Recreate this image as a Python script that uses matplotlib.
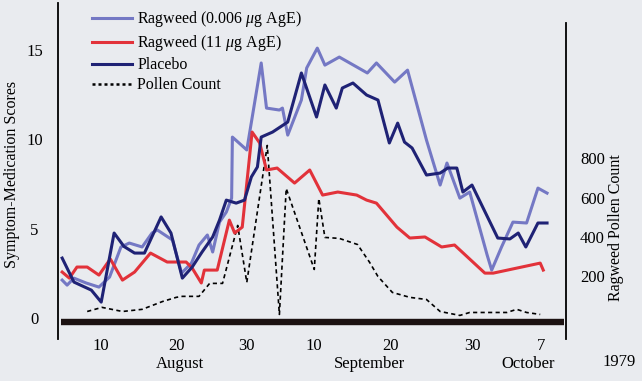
import matplotlib
matplotlib.use('Agg')
import matplotlib.pyplot as plt

# x values: days after 31 July 1979
low_days = [3.85, 4.5, 5.4, 7.0, 8.7, 10.1, 11.6, 12.7, 14.4, 15.7, 16.4, 18.4, 19.6, 20.9,
            21.9, 23.0, 23.7, 24.6, 25.5, 26.2, 26.3, 28.2, 30.1, 30.8, 32.5, 32.9, 33.6,
            35.4, 36.1, 37.5, 38.5, 40.4, 44.1, 45.3, 47.7, 49.4, 51.9, 53.7, 54.6, 56.3,
            57.6, 59.9, 60.5, 61.8, 63.3, 65.1, 66.6, 67.8]
low_scores = [2.12, 1.84, 2.23, 1.96, 1.73, 2.29, 3.97, 4.19, 3.97, 4.75, 4.92, 4.36, 2.51, 3.07,
              4.08, 4.64, 3.69, 5.36, 5.92, 6.70, 10.11, 9.39, 14.25, 11.73, 11.62, 11.73, 10.22,
              12.18, 13.97, 15.08, 14.13, 14.58, 13.69, 14.25, 13.18, 13.85, 9.94, 7.43, 8.66, 6.70,
              7.04, 3.52, 2.68, 3.97, 5.36, 5.31, 7.26, 6.98]

high_days = [3.85, 4.8, 5.8, 7.15, 8.7, 10.2, 11.8, 13.4, 15.5, 17.7, 19.0, 20.2, 21.0, 22.2,
             22.6, 24.3, 25.9, 26.6, 27.6, 28.9, 29.9, 30.8, 32.2, 34.5, 36.5, 38.2, 40.2,
             42.7, 44.0, 45.3, 48.0, 49.7, 51.7, 53.9, 55.6, 59.6, 60.7, 66.9, 67.3]
high_scores = [2.57, 2.23, 2.85, 2.85, 2.4, 3.3, 2.12, 2.57, 3.63, 3.13, 3.13, 3.13, 2.79, 1.96,
               2.68, 2.68, 5.47, 4.75, 5.08, 10.39, 9.78, 8.27, 8.38, 7.54, 8.27, 6.87, 7.04,
               6.87, 6.59, 6.42, 5.08, 4.47, 4.53, 3.97, 4.08, 2.51, 2.51, 3.07, 2.68]

placebo_days = [3.85, 5.4, 7.7, 9.0, 10.7, 12.0, 13.4, 14.7, 16.9, 18.2, 19.7, 21.0, 22.3, 23.7,
                24.6, 25.5, 26.8, 27.9, 28.8, 29.6, 30.1, 31.6, 33.6, 35.4, 37.4, 38.5, 40.0,
                40.8, 42.2, 44.0, 45.5, 47.0, 48.1, 49.0, 50.0, 51.9, 53.7, 54.7, 55.9, 56.7,
                57.9, 61.3, 62.9, 64.0, 65.0, 66.6, 67.8]
placebo_scores = [3.35, 2.01, 1.56, 0.89, 4.75, 4.0, 3.63, 3.63, 5.65, 4.75, 2.23, 2.85, 3.69, 4.53,
                  5.47, 6.59, 6.42, 6.59, 7.88, 8.44, 10.11, 10.39, 10.95, 13.69, 11.23, 13.02, 11.73,
                  12.85, 13.13, 12.46, 12.18, 9.78, 10.89, 9.83, 9.50, 7.99, 8.10, 8.38, 8.38, 7.04,
                  7.43, 4.47, 4.42, 4.75, 3.97, 5.31, 5.31]

pollen_days = [7.15, 9.1, 11.8, 14.4, 17.1, 18.9, 19.7, 21.9, 23.3, 25.0, 27.0, 28.2, 30.9, 32.5,
               33.4, 37.1, 37.7, 38.5, 40.4, 42.8, 44.4, 45.5, 47.4, 49.7, 51.9, 53.7, 56.3,
               57.6, 62.5, 63.8, 65.1, 66.9]
pollen_count = [20, 41, 20, 31, 71, 92, 97, 97, 163, 163, 458, 168, 865, 5,
                646, 234, 595, 397, 392, 361, 270, 198, 117, 92, 81, 20, 0,
                15, 15, 31, 15, 5]

day_labels = ['10', '20', '30', '10', '20', '30', '7']
day_ticks = [9.0, 18.9, 28.2, 37.0, 47.2, 57.9, 67.0]
months = ['August', 'September', 'October']
month_pos = [19.4, 44.4, 65.3]

bg = '#e9ebef'
c_low = '#7478c4'
c_high = '#e2323a'
c_placebo = '#1f2275'

plt.rcParams['font.family'] = ['Liberation Serif', 'DejaVu Serif']
plt.rcParams['mathtext.fontset'] = 'custom'
plt.rcParams['mathtext.rm'] = 'Liberation Serif'
plt.rcParams['mathtext.it'] = 'Liberation Serif:italic'

fig = plt.figure(figsize=(6.42, 3.81), dpi=100, facecolor=bg)
ax = fig.add_axes([58 / 642, 42 / 381, 508 / 642, 336 / 381])
ax.set_facecolor(bg)
ax2 = ax.twinx()

ax.set_xlim(3.3, 70.3)
ax.set_ylim(-1.17, 17.6)
ax2.set_ylim(-120, 1590)

ax2.plot(pollen_days, pollen_count, color='black', lw=1.2, ls=(0, (2.5, 2)), zorder=1)
l1, = ax.plot(low_days, low_scores, color=c_low, lw=2.2, zorder=3)
l2, = ax.plot(high_days, high_scores, color=c_high, lw=2.2, zorder=4)
l3, = ax.plot(placebo_days, placebo_scores, color=c_placebo, lw=2.2, zorder=5)
l4, = ax.plot([], [], color='black', lw=1.8, ls=(0, (1.2, 1.2)))
ax.set_zorder(ax2.get_zorder() + 1)
ax.patch.set_visible(False)
ax2.patch.set_visible(True)
ax2.patch.set_facecolor(bg)

# thick base bar
ax.hlines(-0.22, 3.7, 70.0, color='#1c1212', lw=4.6, zorder=6)

for s in ['top', 'bottom', 'right']:
    ax.spines[s].set_visible(False)
for s in ['top', 'bottom', 'left']:
    ax2.spines[s].set_visible(False)
ax.spines['left'].set_linewidth(1.3)
ax2.spines['right'].set_linewidth(1.3)
ax2.spines['right'].set_bounds(-120, 1488)

ax.set_yticks([0, 5, 10, 15])
ax.tick_params(axis='y', length=0, pad=17, labelsize=12)
for t in ax.get_yticklabels():
    t.set_horizontalalignment('center')
ax2.set_yticks([200, 400, 600, 800])
ax2.tick_params(axis='y', length=0, pad=10, labelsize=12)

ax.set_xticks(day_ticks)
ax.set_xticklabels(day_labels)
ax.tick_params(axis='x', length=0, pad=-1, labelsize=12)
for m, p in zip(months, month_pos):
    ax.text(p, -0.05, m, transform=ax.get_xaxis_transform(), ha='center', va='top',
            fontsize=12)
fig.text(619 / 642, 1 - 362 / 381, '1979', ha='center', va='center', fontsize=12)

ax.set_ylabel('Symptom-Medication Scores', fontsize=11.5)
ax.yaxis.set_label_coords(-0.075, 0.49)
ax2.set_ylabel('Ragweed Pollen Count', fontsize=11.5)
ax2.yaxis.set_label_coords(1.083, 0.33)

ax.legend([l1, l2, l3, l4],
          ['Ragweed (0.006 $\\mu$g AgE)', 'Ragweed (11 $\\mu$g AgE)', 'Placebo', 'Pollen Count'],
          loc='upper left', bbox_to_anchor=(24 / 508, 1.01), frameon=False, fontsize=11.5,
          handlelength=2.5, handletextpad=0.35, labelspacing=0.25, borderaxespad=0.2)

plt.savefig('out.png', dpi=100, facecolor=bg)
